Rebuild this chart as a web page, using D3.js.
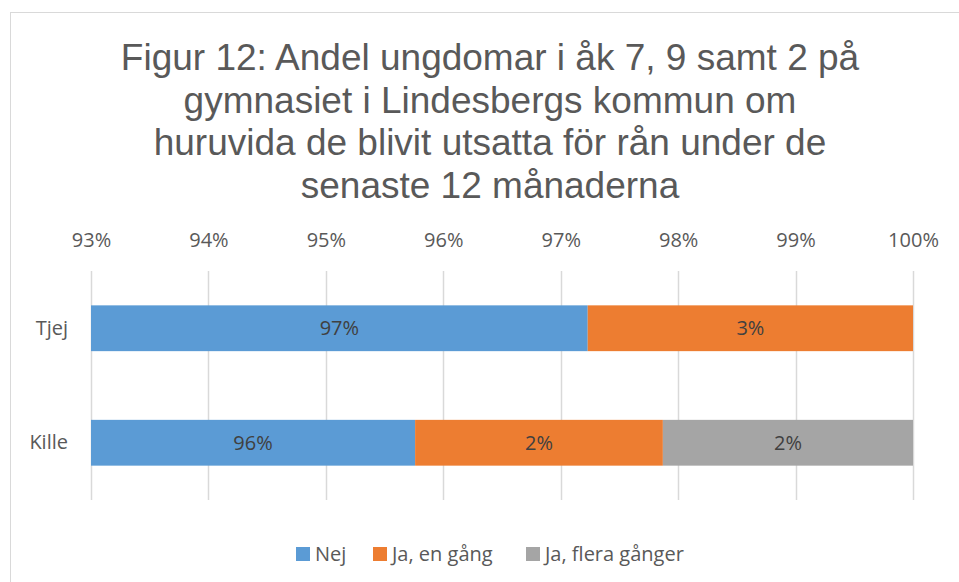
<!DOCTYPE html>
<html lang="sv">
<head>
<meta charset="UTF-8">
<script src="https://d3js.org/d3.v7.min.js"></script>
<style>
  body { margin: 0; background: #fff; }
</style>
</head>
<body>
<script>
const categories = ["Tjej", "Kille"];
const seriesNames = ["Nej", "Ja, en gång", "Ja, flera gånger"];
const nej = [97.23, 95.76];
const jaEnGang = [2.77, 2.11];
const jaFlera = [0, 2.13];
const tickValues = [93, 94, 95, 96, 97, 98, 99, 100];
const colors = ["#5B9BD5", "#ED7D31", "#A5A5A5"];
const titleLines = [
  "Figur 12: Andel ungdomar i åk 7, 9 samt 2 på",
  "gymnasiet i Lindesbergs kommun om",
  "huruvida de blivit utsatta för rån under de",
  "senaste 12 månaderna"
];

const width = 959, height = 582;
const margin = { top: 271, right: 45, bottom: 82, left: 91 };
const labelFont = "Open Sans, sans-serif";

const svg = d3.select("body").append("svg")
  .attr("width", width)
  .attr("height", height);

// chart border (cut off at the right and bottom)
svg.append("rect")
  .attr("x", 10.5).attr("y", 12.5)
  .attr("width", 1000).attr("height", 1000)
  .attr("fill", "none").attr("stroke", "#D9D9D9");

svg.append("g")
  .selectAll("text")
  .data(titleLines)
  .join("text")
  .attr("x", 490)
  .attr("y", (d, i) => 70 + i * 42.5)
  .attr("text-anchor", "middle")
  .attr("font-family", "Liberation Sans, Arial, sans-serif")
  .attr("font-size", 37)
  .attr("fill", "#595959")
  .text(d => d);

const x = d3.scaleLinear()
  .domain([93, 100])
  .range([margin.left, width - margin.right - 1]);

const y = d3.scaleBand()
  .domain(categories)
  .range([margin.top, height - margin.bottom])
  .paddingInner(0.6)
  .paddingOuter(0.3);

// gridlines
svg.append("g")
  .selectAll("line")
  .data(tickValues)
  .join("line")
  .attr("x1", d => Math.round(x(d)) + 0.5)
  .attr("x2", d => Math.round(x(d)) + 0.5)
  .attr("y1", margin.top)
  .attr("y2", height - margin.bottom)
  .attr("stroke", "#D9D9D9")
  .attr("stroke-width", 1.5);

// top axis labels
const xAxis = g => g
  .attr("transform", `translate(0,${margin.top})`)
  .call(d3.axisTop(x).tickValues(tickValues).tickFormat(d => d + "%").tickSize(0).tickPadding(24))
  .call(g => g.select(".domain").remove())
  .call(g => g.selectAll("text")
    .attr("font-family", labelFont)
    .attr("font-size", 20)
    .attr("fill", "#595959"));
svg.append("g").call(xAxis);

const yAxis = g => g
  .attr("transform", `translate(${margin.left},0)`)
  .call(d3.axisLeft(y).tickSize(0).tickPadding(23))
  .call(g => g.select(".domain").remove())
  .call(g => g.selectAll("text")
    .attr("font-family", labelFont)
    .attr("font-size", 20)
    .attr("fill", "#595959"));
svg.append("g").call(yAxis);

const table = categories.map((c, i) => ({
  category: c,
  "Nej": nej[i],
  "Ja, en gång": jaEnGang[i],
  "Ja, flera gånger": jaFlera[i]
}));

const series = d3.stack().keys(seriesNames)(table);

const layers = svg.append("g")
  .selectAll("g")
  .data(series)
  .join("g")
  .attr("fill", (d, i) => colors[i]);

// the axis starts at 93%, so the first segment is cut there
layers.selectAll("rect")
  .data(d => d.filter(p => p[1] - p[0] > 0))
  .join("rect")
  .attr("x", d => x(Math.max(93, d[0])))
  .attr("y", d => y(d.data.category))
  .attr("width", d => x(d[1]) - x(Math.max(93, d[0])))
  .attr("height", y.bandwidth());

// data labels
layers.selectAll("text")
  .data(d => d.filter(p => p[1] - p[0] > 0))
  .join("text")
  .attr("x", d => (x(Math.max(93, d[0])) + x(d[1])) / 2)
  .attr("y", d => y(d.data.category) + y.bandwidth() / 2)
  .attr("dy", "0.35em")
  .attr("text-anchor", "middle")
  .attr("font-family", labelFont)
  .attr("font-size", 20)
  .attr("fill", "#404040")
  .text(d => Math.round(d[1] - d[0]) + "%");

// legend
const legendItems = [
  { name: seriesNames[0], x: 296 },
  { name: seriesNames[1], x: 373 },
  { name: seriesNames[2], x: 526 }
];
const legend = svg.append("g")
  .selectAll("g")
  .data(legendItems)
  .join("g")
  .attr("transform", d => `translate(${d.x},554)`);
legend.append("rect")
  .attr("x", 0).attr("y", -7)
  .attr("width", 14).attr("height", 14)
  .attr("fill", (d, i) => colors[i]);
legend.append("text")
  .attr("x", 19)
  .attr("dy", "0.35em")
  .attr("font-family", labelFont)
  .attr("font-size", 20)
  .attr("fill", "#595959")
  .text(d => d.name);
</script>
</body>
</html>
